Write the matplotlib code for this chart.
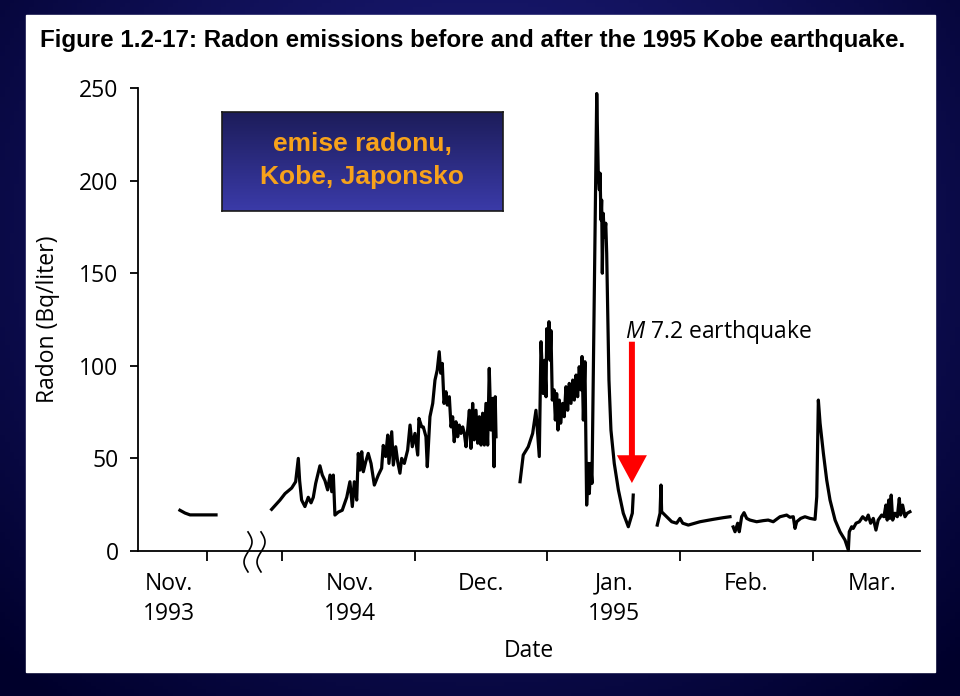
import numpy as np
import matplotlib
matplotlib.use("Agg")
import matplotlib.pyplot as plt
from matplotlib.patches import Rectangle

plt.rcParams['font.family'] = ['Open Sans', 'DejaVu Sans']
plt.rcParams['mathtext.fontset'] = 'custom'
plt.rcParams['mathtext.it'] = 'Open Sans:italic'
plt.rcParams['mathtext.rm'] = 'Open Sans'

# x is in months counted from 1 Nov 1994 (each month has the same width on the chart)
t_1993 = [-0.769, -0.731, -0.693, -0.497]
rn_1993 = [22, 20.5, 19.5, 19.5]

t_novdec = [-0.078, -0.015, 0.023, 0.073, 0.103, 0.123, 0.133, 0.148, 0.173, 0.198,
            0.219, 0.236, 0.254, 0.269, 0.286, 0.304, 0.324, 0.344, 0.362, 0.375,
            0.387, 0.399, 0.424, 0.454, 0.488, 0.512, 0.530, 0.545, 0.563, 0.575,
            0.588, 0.601, 0.613, 0.631, 0.650, 0.671, 0.696, 0.726, 0.751, 0.763,
            0.781, 0.797, 0.806, 0.827, 0.839, 0.857, 0.872, 0.889, 0.902, 0.922,
            0.947, 0.965, 0.982, 1.002, 1.023, 1.032, 1.053, 1.065, 1.085, 1.095,
            1.115, 1.136, 1.153, 1.170, 1.185, 1.196, 1.208, 1.221, 1.236, 1.246,
            1.261, 1.274, 1.286, 1.298, 1.311, 1.324, 1.336, 1.349, 1.362, 1.374,
            1.387, 1.399, 1.412, 1.424, 1.437, 1.449, 1.462, 1.475, 1.487, 1.500,
            1.512, 1.525, 1.537, 1.550, 1.562, 1.575, 1.588, 1.598, 1.607, 1.613]
rn_novdec = [22.5, 27.5, 31, 34, 37.4, 50, 38, 27.5, 24, 29,
             26, 29, 36.5, 41, 46, 41, 38, 33, 41, 32,
             41, 19.4, 21, 22, 29, 37.4, 24, 37.4, 27.5, 52.7,
             43.7, 53.6, 42.8, 48.2, 52.7, 47.3, 35.6, 41, 44.7, 57,
             51, 62.6, 47.3, 64.4, 46.4, 56.3, 48.2, 42, 50, 47.3,
             54.5, 68, 56.3, 63.5, 51.8, 71.6, 67, 67, 61.7, 45.5,
             72.5, 79.7, 92.3, 97.7, 107.6, 96, 101.3, 79.7, 86, 78.8,
             83.3, 67, 72.5, 59, 69.8, 61.7, 68, 63.5, 67, 63.5,
             56.3, 65.3, 76, 55.4, 79.7, 60, 76, 58.2, 72.5, 57.2,
             74.4, 57.2, 79.7, 57.2, 98.6, 65.3, 82.4, 45.5, 83.3, 61.7]

t_jan = [1.794, 1.818, 1.856, 1.889, 1.914, 1.939, 1.952, 1.969, 1.980, 1.990,
         1.995, 2.007, 2.012, 2.020, 2.027, 2.037, 2.050, 2.060, 2.070, 2.080,
         2.090, 2.100, 2.115, 2.127, 2.140, 2.153, 2.165, 2.178, 2.191, 2.203,
         2.216, 2.228, 2.240, 2.253, 2.261, 2.271, 2.283, 2.296, 2.308, 2.316,
         2.326, 2.336, 2.372, 2.384, 2.392, 2.397, 2.404, 2.409, 2.414, 2.421,
         2.429, 2.440, 2.447, 2.455, 2.464, 2.479, 2.504, 2.535, 2.572, 2.610,
         2.640, 2.647]
rn_jan = [37.4, 51.8, 56.3, 63.5, 76, 51, 113, 85, 103, 83.3,
          120, 106.7, 123.8, 103, 119, 81.5, 87, 70.7, 85, 65.3,
          81.5, 69, 79.7, 72.5, 88.7, 76, 90.5, 79.7, 92.3, 81.5,
          95, 83.3, 99.5, 87, 105, 70.7, 102.2, 24.8, 47.3, 31,
          47.3, 36.5, 247, 202, 195, 204, 178.7, 189.5, 150, 182.3,
          169.7, 177, 160.7, 128, 92.3, 65.3, 47.3, 33, 20.4, 13.1,
          20.4, 30.2]

t_feb = [2.828, 2.849, 2.856, 2.861, 2.886, 2.937, 2.974, 2.999, 3.020, 3.062,
         3.150, 3.250, 3.326, 3.376]
rn_feb = [14, 20.4, 35.6, 21.2, 19.4, 15.8, 15, 17.6, 15, 14,
          15.8, 17.1, 18, 18.5]

t_mar = [3.400, 3.414, 3.434, 3.446, 3.464, 3.482, 3.502, 3.527, 3.577, 3.627,
         3.664, 3.702, 3.753, 3.803, 3.828, 3.853, 3.866, 3.879, 3.909, 3.941,
         3.979, 4.017, 4.030, 4.042, 4.055, 4.080, 4.105, 4.130, 4.168, 4.205,
         4.243, 4.268, 4.275, 4.293, 4.305, 4.326, 4.351, 4.376, 4.401, 4.418,
         4.436, 4.456, 4.476, 4.493, 4.519, 4.536, 4.551, 4.561, 4.572, 4.581,
         4.591, 4.602, 4.619, 4.637, 4.652, 4.662, 4.677, 4.695, 4.712, 4.732]
rn_mar = [13, 10.4, 15, 10.4, 18.5, 20.7, 17.6, 16.7, 15.8, 16.4,
          16.7, 15.8, 18.5, 19.4, 18.2, 18.5, 12.2, 15.8, 17.6, 18.5,
          17.6, 17.1, 29.3, 81.5, 69, 52.7, 38.3, 27.5, 16.7, 10.4,
          5.9, 0.5, 10.4, 13.1, 12.2, 15, 15.8, 18.5, 16.7, 19.4,
          15, 17.6, 11.3, 16.7, 19.4, 18.5, 24.8, 16.7, 27.5, 17.6,
          30.2, 16.7, 20.4, 18.5, 28.4, 19.4, 24.8, 18.5, 20.4, 21.2]

month_edges = [-0.565, 0, 1, 2, 3, 4]
label_pos = [-0.852, 0.512, 1.5, 2.5, 3.5, 4.45]
month_labels = ['Nov.\n1993', 'Nov.\n1994', 'Dec.', 'Jan.\n1995', 'Feb.', 'Mar.']
break_pos = [-0.256, -0.158]

quake_t = 2.637
arrow_top, arrow_tip = 113, 36.7

fig = plt.figure(figsize=(9.6, 6.96), dpi=100)

# dark blue slide background
bg = fig.add_axes([0, 0, 1, 1])
bg.axis('off')
yy, xx = np.mgrid[0:1:200j, 0:1:200j]
r = np.sqrt(((xx - 0.5) * 1.2) ** 2 + ((yy - 0.35) * 1.0) ** 2)
k = np.clip(1 - r / 0.85, 0, 1)
dark = np.array([0.0, 0.0, 0.17])
bright = np.array([0.14, 0.14, 0.55])
grad = dark + (bright - dark) * k[..., None]
bg.imshow(grad, extent=[0, 1, 0, 1], origin='upper', aspect='auto')
bg.add_patch(Rectangle((26 / 960, 24 / 696), 909 / 960, 657 / 696, color='white'))
bg.set_xlim(0, 1)
bg.set_ylim(0, 1)

fig.text(40 / 960, 1 - 41 / 696,
         'Figure 1.2-17: Radon emissions before and after the 1995 Kobe earthquake.',
         family='Liberation Sans', fontweight='bold', fontsize=17.4, va='center')

ax = fig.add_axes([138 / 960, 145 / 696, 782 / 960, 463 / 696])
ax.set_facecolor('none')
for t, rn in [(t_1993, rn_1993), (t_novdec, rn_novdec), (t_jan, rn_jan),
              (t_feb, rn_feb), (t_mar, rn_mar)]:
    ax.plot(t, rn, color='black', lw=2.3, solid_joinstyle='round', clip_on=False)

ax.set_xlim(-1.085, 4.808)
ax.set_ylim(0, 250)
ax.spines['top'].set_visible(False)
ax.spines['right'].set_visible(False)
for s in ['left', 'bottom']:
    ax.spines[s].set_linewidth(1.3)

ax.set_yticks([0, 50, 100, 150, 200, 250])
ax.tick_params(axis='y', direction='out', length=6, width=1.3, pad=8, labelsize=16.5)
ax.set_xticks(month_edges)
ax.set_xticklabels([])
ax.tick_params(axis='x', which='major', direction='out', length=7.5, width=1.3)
ax.set_xticks(label_pos, minor=True)
ax.set_xticklabels(month_labels, minor=True, fontsize=16.5, linespacing=1.32)
ax.tick_params(axis='x', which='minor', length=0, pad=15)

ax.set_ylabel('Radon (Bq/liter)', fontsize=16.5)
ax.yaxis.set_label_coords(-0.0995, 0.5)
fig.text(529 / 960, 1 - 651 / 696, 'Date', fontsize=16.5, ha='center', va='center')

# axis break marks
s = np.linspace(0, 1, 50)
for bp in break_pos:
    ax.plot(bp + 0.03 * np.sin(2 * np.pi * s), 10.3 - 21.6 * s, color='black', lw=1.2,
            clip_on=False)

# earthquake arrow and label
ax.arrow(quake_t, arrow_top, 0, arrow_tip - arrow_top, width=0.045, head_width=0.226,
         head_length=15, length_includes_head=True, color='#ff0000', lw=0)
ax.text(2.585, 115, r'$\mathit{M}$ 7.2 earthquake', fontsize=16.5, va='baseline', ha='left')

# title box
bx = fig.add_axes([222 / 960, 485 / 696, 281 / 960, 99 / 696])
box_grad = np.linspace(0, 1, 100)[:, None, None]
top_c = np.array([0.11, 0.11, 0.35])
bot_c = np.array([0.23, 0.23, 0.66])
bx.imshow(top_c + (bot_c - top_c) * box_grad * np.ones((1, 2, 3)),
          extent=[0, 1, 0, 1], aspect='auto', origin='upper')
bx.set_xticks([])
bx.set_yticks([])
for sp in bx.spines.values():
    sp.set_color('#1a1a1a')
    sp.set_linewidth(1.2)
bx.text(0.5, 0.677, 'emise radonu,', transform=bx.transAxes, ha='center', va='center',
        color='#f7a21b', fontsize=19, fontweight='bold', family='Liberation Sans')
bx.text(0.5, 0.343, 'Kobe, Japonsko', transform=bx.transAxes, ha='center', va='center',
        color='#f7a21b', fontsize=19, fontweight='bold', family='Liberation Sans')

fig.savefig('out.png', dpi=100)
